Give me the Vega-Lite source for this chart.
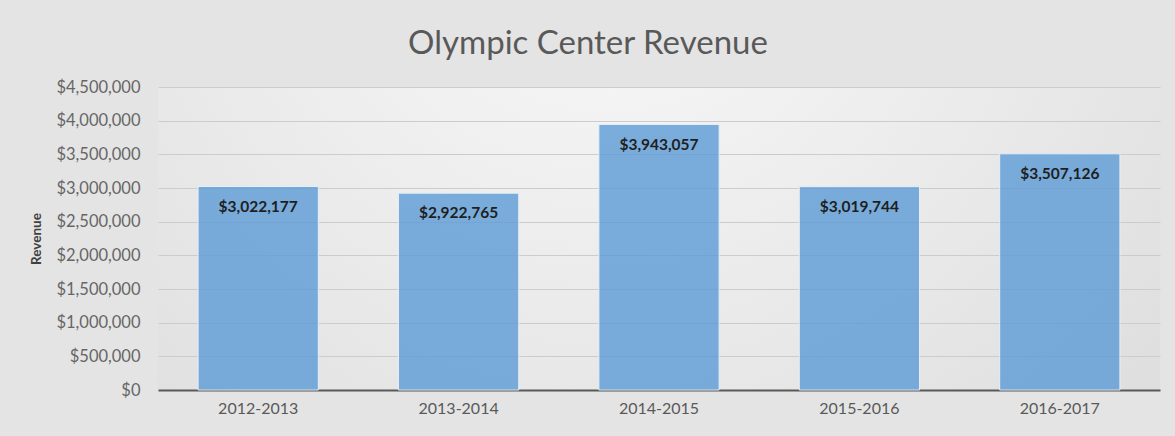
{
  "$schema": "https://vega.github.io/schema/vega-lite/v6.json",
  "width": 1002,
  "height": 303,
  "autosize": {"type": "none"},
  "padding": {"left": 158, "top": 87, "right": 15, "bottom": 46},
  "background": "#e4e4e4",
  "title": {
    "text": "Olympic Center Revenue",
    "font": "Lato",
    "fontSize": 33,
    "fontWeight": "normal",
    "color": "#595959",
    "anchor": "middle",
    "frame": "group",
    "dx": -71,
    "baseline": "alphabetic",
    "offset": -8
  },
  "config": {
    "view": {
      "stroke": null,
      "fill": {
        "gradient": "radial",
        "x1": 0.45, "y1": 0.15, "x2": 0.45, "y2": 0.15,
        "r1": 0, "r2": 0.85,
        "stops": [
          {"offset": 0, "color": "#fbfbfb"},
          {"offset": 1, "color": "#dadada"}
        ]
      }
    },
    "font": "Lato"
  },
  "data": {
    "values": [
      {"season": "2012-2013", "revenue": 3022177},
      {"season": "2013-2014", "revenue": 2922765},
      {"season": "2014-2015", "revenue": 3943057},
      {"season": "2015-2016", "revenue": 3019744},
      {"season": "2016-2017", "revenue": 3507126}
    ]
  },
  "encoding": {
    "x": {
      "field": "season",
      "type": "nominal",
      "sort": null,
      "scale": {"paddingInner": 0.4, "paddingOuter": 0.2},
      "axis": {
        "title": null,
        "labelAngle": 0,
        "labelFont": "Lato",
        "labelFontSize": 16,
        "labelColor": "#595959",
        "labelPadding": 10,
        "ticks": false,
        "domainColor": "#595959",
        "domainWidth": 2,
        "grid": false
      }
    },
    "y": {
      "field": "revenue",
      "type": "quantitative",
      "scale": {"domain": [0, 4500000], "nice": false},
      "axis": {
        "title": "Revenue",
        "titleFont": "Lato",
        "titleFontSize": 13.5,
        "titleFontWeight": "bold",
        "titleColor": "#404040",
        "titlePadding": 12,
        "values": [0, 500000, 1000000, 1500000, 2000000, 2500000, 3000000, 3500000, 4000000, 4500000],
        "format": "$,.0f",
        "labelFont": "Lato",
        "labelFontSize": 16.5,
        "labelColor": "#666666",
        "labelPadding": 18,
        "ticks": false,
        "domain": false,
        "gridColor": "#cccccc",
        "gridWidth": 1
      }
    }
  },
  "layer": [
    {
      "mark": {
        "type": "bar",
        "fill": "#5b9bd5",
        "fillOpacity": 0.8,
        "stroke": "#e4eef8",
        "strokeWidth": 1
      }
    },
    {
      "mark": {
        "type": "text",
        "font": "Lato",
        "fontSize": 15.5,
        "fontWeight": "bold",
        "color": "#1f1f1f",
        "baseline": "middle",
        "dy": 20
      },
      "encoding": {
        "text": {"field": "revenue", "type": "quantitative", "format": "$,.0f"}
      }
    }
  ]
}
